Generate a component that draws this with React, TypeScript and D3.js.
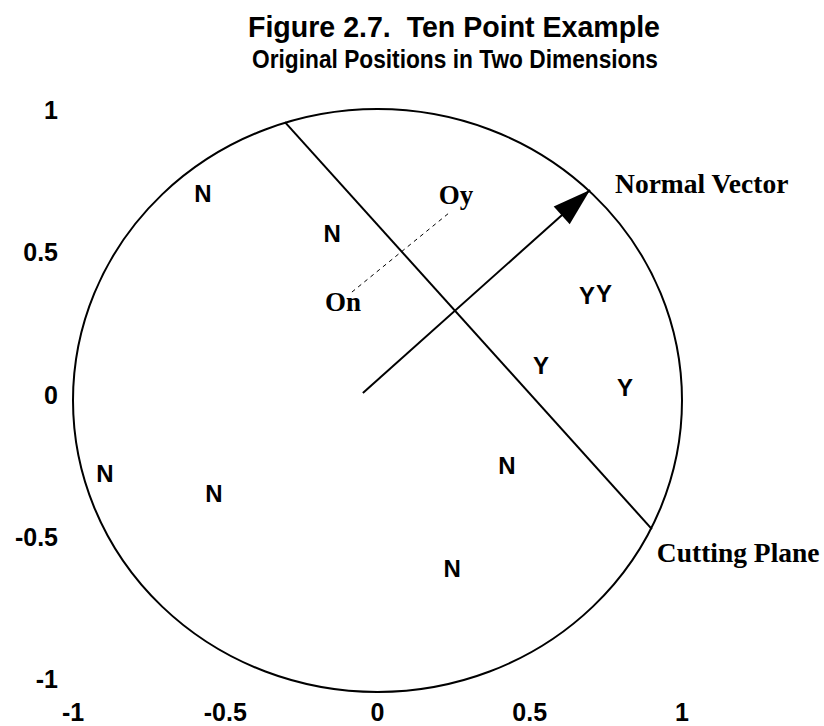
import React from "react";
import * as d3 from "d3";

const WIDTH = 824;
const HEIGHT = 726;

// axis ticks
const xTicks = [-1, -0.5, 0, 0.5, 1];
const yTicks = [1, 0.5, 0, -0.5, -1];

// the ten cases: outcome letter and position
const caseLabels = ["N", "N", "N", "N", "N", "N", "Y", "Y", "Y", "Y"];
const caseX = [-0.573, -0.149, -0.895, -0.537, 0.425, 0.245, 0.688, 0.744, 0.537, 0.813];
const caseY = [0.712, 0.575, -0.249, -0.317, -0.221, -0.575, 0.362, 0.368, 0.122, 0.046];

// projected outcome markers
const projLabels = ["Oy", "On"];
const projX = [0.258, -0.113];
const projY = [0.702, 0.334];

// dashed link between the projected markers
const linkX = [-0.084, 0.238];
const linkY = [0.372, 0.646];

// normal vector, tail to head
const normalX = [-0.048, 0.698];
const normalY = [0.026, 0.722];

// cutting plane chord
const planeX = [-0.304, 0.901];
const planeY = [0.955, -0.441];

const circleRadius = 1;

const SANS = "'Liberation Sans', Arial, sans-serif";
const SERIF = "'Liberation Serif', 'Times New Roman', serif";

export default function App() {
  const x = d3.scaleLinear().domain([-1, 1]).range([73, 682]);
  const y = d3.scaleLinear().domain([-1, 1]).range([692, 109]);
  const yTickPos = d3.scaleLinear().domain([-1, 1]).range([679, 110]);

  const line = d3.line<[number, number]>().x((d) => x(d[0])).y((d) => y(d[1]));

  // arrow head at the end of the normal vector
  const tx = x(normalX[1]);
  const ty = y(normalY[1]);
  const sx = x(normalX[0]);
  const sy = y(normalY[0]);
  const len = Math.hypot(tx - sx, ty - sy);
  const ux = (tx - sx) / len;
  const uy = (ty - sy) / len;
  const headLen = 38;
  const headHalf = 12;
  const bx = tx - ux * headLen;
  const by = ty - uy * headLen;
  const head = [
    [tx, ty],
    [bx - uy * headHalf, by + ux * headHalf],
    [bx + uy * headHalf, by - ux * headHalf],
  ]
    .map((p) => p.join(","))
    .join(" ");

  return (
    <svg
      width={WIDTH}
      height={HEIGHT}
      style={{ position: "absolute", left: 0, top: 0, background: "#fff" }}
    >
      <rect width={WIDTH} height={HEIGHT} fill="#fff" />

      <text x={454} y={37} textAnchor="middle" fontFamily={SANS} fontWeight="bold" fontSize={30}
        xmlSpace="preserve" textLength={412} lengthAdjust="spacingAndGlyphs">
        Figure 2.7.  Ten Point Example
      </text>
      <text x={455} y={68} textAnchor="middle" fontFamily={SANS} fontWeight="bold" fontSize={25}
        textLength={406} lengthAdjust="spacingAndGlyphs">
        Original Positions in Two Dimensions
      </text>

      {/* y tick labels */}
      {yTicks.map((v) => (
        <text key={"y" + v} x={58} y={yTickPos(v)} dy="0.36em" textAnchor="end"
          fontFamily={SANS} fontWeight="bold" fontSize={25}>
          {String(v)}
        </text>
      ))}
      {/* x tick labels */}
      {xTicks.map((v) => (
        <text key={"x" + v} x={x(v)} y={712} dy="0.36em" textAnchor="middle"
          fontFamily={SANS} fontWeight="bold" fontSize={25}>
          {String(v)}
        </text>
      ))}

      {/* unit circle */}
      <ellipse cx={x(0)} cy={y(0)} rx={x(circleRadius) - x(0)} ry={y(0) - y(circleRadius)}
        fill="none" stroke="#000" strokeWidth={2} />

      {/* cutting plane */}
      <path d={line([[planeX[0], planeY[0]], [planeX[1], planeY[1]]])!} stroke="#000" strokeWidth={2} fill="none" />

      {/* normal vector */}
      <path d={line([[normalX[0], normalY[0]], [normalX[1], normalY[1]]])!} stroke="#000" strokeWidth={2} fill="none" />
      <polygon points={head} fill="#000" />

      {/* dashed link */}
      <path d={line([[linkX[0], linkY[0]], [linkX[1], linkY[1]]])!} stroke="#000" strokeWidth={1}
        strokeDasharray="4,4" fill="none" />

      {/* cases */}
      {caseLabels.map((c, i) => (
        <text key={"c" + i} x={x(caseX[i])} y={y(caseY[i])} dy="0.36em" textAnchor="middle"
          fontFamily={SANS} fontWeight="bold" fontSize={24}>
          {c}
        </text>
      ))}

      {/* projected markers */}
      {projLabels.map((c, i) => (
        <text key={"p" + i} x={x(projX[i])} y={y(projY[i])} dy="0.3em" textAnchor="middle"
          fontFamily={SERIF} fontWeight="bold" fontSize={27}>
          {c}
        </text>
      ))}

      <text x={tx + 25} y={ty + 3} fontFamily={SERIF} fontWeight="bold" fontSize={27.5}>
        Normal Vector
      </text>
      <text x={x(planeX[1]) + 5} y={y(planeY[1]) + 33} fontFamily={SERIF} fontWeight="bold" fontSize={27.5}>
        Cutting Plane
      </text>
    </svg>
  );
}
